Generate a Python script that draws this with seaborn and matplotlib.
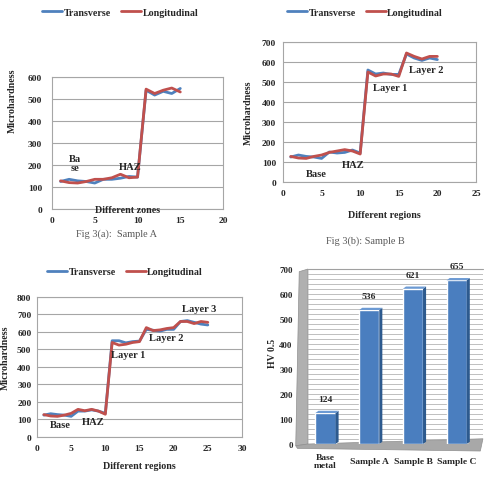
import numpy as np
import pandas as pd
import matplotlib
matplotlib.use("Agg")
import matplotlib.pyplot as plt
import seaborn as sns
from matplotlib.patches import Polygon

# ---------------- data ----------------
pos_a = list(range(1, 16))
trans_a = [125, 135, 128, 125, 118, 135, 135, 140, 148, 145, 540, 518, 535, 525, 548]
long_a = [128, 120, 118, 125, 135, 135, 142, 158, 142, 145, 545, 525, 540, 550, 532]

pos_b = list(range(1, 21))
trans_b = [125, 135, 128, 125, 118, 150, 145, 148, 160, 145,
           560, 540, 545, 538, 538, 640, 620, 608, 620, 612]
long_b = [128, 120, 118, 128, 135, 148, 155, 162, 155, 140,
          550, 530, 540, 540, 528, 645, 628, 615, 628, 628]

pos_c = list(range(1, 26))
trans_c = [125, 133, 128, 125, 118, 148, 148, 155, 148, 135,
           550, 550, 538, 545, 548, 615, 610, 605, 615, 615,
           660, 665, 655, 645, 640]
long_c = [128, 120, 118, 125, 135, 158, 150, 158, 148, 130,
          540, 525, 530, 540, 545, 625, 608, 612, 620, 625,
          660, 660, 648, 660, 655]

series_names = ["Transverse", "Longitudinal"]

bar_labels = ["Base\nmetal", "Sample A", "Sample B", "Sample C"]
bar_values = [124, 536, 621, 655]

# ---------------- style ----------------
sns.set_theme(style="white")
plt.rcParams["font.family"] = ["Liberation Serif", "DejaVu Serif"]
plt.rcParams["font.weight"] = "bold"

BLUE = "#4F81BD"
RED = "#C0504D"
GRID = "#A6A6A6"
FS = 6.8

fig = plt.figure(figsize=(4.86, 4.81), dpi=100)


def line_panel(rect, x, t, l, xmax, ymax, ystep, ypad, leg_xy):
    ax = fig.add_axes(rect)
    df = pd.DataFrame({
        "x": list(x) * 2,
        "y": list(t) + list(l),
        "dir": [series_names[0]] * len(x) + [series_names[1]] * len(x),
    })
    sns.lineplot(data=df, x="x", y="y", hue="dir", hue_order=series_names,
                 palette=[BLUE, RED], lw=2.0, ax=ax, estimator=None, sort=False)
    ax.set_xlim(0, xmax)
    ax.set_ylim(0, ymax)
    ax.set_xticks(range(0, xmax + 1, 5))
    ax.set_yticks(range(0, ymax + 1, ystep))
    ax.yaxis.grid(True, color=GRID, lw=0.8)
    ax.xaxis.grid(False)
    for s in ax.spines.values():
        s.set_color(GRID)
        s.set_linewidth(0.8)
    ax.tick_params(axis="y", labelsize=FS, length=0, pad=ypad)
    ax.tick_params(axis="x", labelsize=FS, length=0, pad=5)
    for lab in ax.get_xticklabels() + ax.get_yticklabels():
        lab.set_fontweight("bold")
    ax.set_xlabel("")
    ax.set_ylabel("")
    sns.move_legend(ax, loc="center", bbox_to_anchor=leg_xy, ncol=2, frameon=False,
                    title=None, fontsize=FS + 0.4, handlelength=2.0,
                    handletextpad=0.15, columnspacing=1.0)
    for t_ in ax.get_legend().get_texts():
        t_.set_fontweight("bold")
    return ax


# Panel A
axA = line_panel([0.107, 0.5634, 0.352, 0.2744], pos_a, trans_a, long_a,
                 20, 600, 100, 7, (0.40, 1.49))
axA.text(0.444, 0.0, "Different zones", transform=axA.transAxes, ha="center",
         va="center", fontsize=FS + 0.4, fontweight="bold")
axA.text(-0.234, 0.826, "Microhardness", transform=axA.transAxes, rotation=90,
         ha="center", va="center", fontsize=FS + 0.4, fontweight="bold")
axA.text(2.7, 211, "Ba\nse", ha="center", va="center", fontsize=FS + 0.8,
         fontweight="bold", linespacing=1.0)
axA.text(9.1, 195, "HAZ", ha="center", va="center", fontsize=FS + 0.8, fontweight="bold")
fig.text(0.2407, 0.5135, "Fig 3(a):  Sample A", ha="center", va="center",
         fontsize=7.4, fontweight="normal", color="#595959")

# Panel B
axB = line_panel([0.5823, 0.6195, 0.397, 0.2911], pos_b, trans_b, long_b,
                 25, 700, 100, 5, (0.425, 1.214))
axB.text(0.528, -0.229, "Different regions", transform=axB.transAxes, ha="center",
         va="center", fontsize=FS + 0.4, fontweight="bold")
axB.text(-0.18, 0.5, "Microhardness", transform=axB.transAxes, rotation=90,
         ha="center", va="center", fontsize=FS + 0.4, fontweight="bold")
for txt, xx, yy in [("Layer 2", 18.5, 565), ("Layer 1", 13.9, 475),
                    ("HAZ", 9.07, 90), ("Base", 4.3, 45)]:
    axB.text(xx, yy, txt, ha="center", va="center", fontsize=FS + 0.8, fontweight="bold")
fig.text(0.751, 0.499, "Fig 3(b): Sample B", ha="center", va="center",
         fontsize=7.4, fontweight="normal", color="#595959")

# Panel C
axC = line_panel([0.0761, 0.0894, 0.4218, 0.2911], pos_c, trans_c, long_c,
                 30, 800, 100, 4, (0.429, 1.179))
axC.text(0.5, -0.2, "Different regions", transform=axC.transAxes, ha="center",
         va="center", fontsize=FS + 0.4, fontweight="bold")
axC.text(-0.155, 0.571, "Microhardness", transform=axC.transAxes, rotation=90,
         ha="center", va="center", fontsize=FS + 0.4, fontweight="bold")
for txt, xx, yy in [("Layer 3", 23.7, 737), ("Layer 2", 18.9, 566),
                    ("Layer 1", 13.3, 474), ("HAZ", 8.2, 91), ("Base", 3.4, 69)]:
    axC.text(xx, yy, txt, ha="center", va="center", fontsize=FS + 0.8, fontweight="bold")

# Panel D (pseudo-3D bar chart)
axD = fig.add_axes([0.6337, 0.0748, 0.36, 0.3638])
axD.set_facecolor("white")
dfD = pd.DataFrame({"cat": bar_labels, "val": bar_values})
sns.barplot(data=dfD, x="cat", y="val", color="#4A7EBF", saturation=1,
            width=0.46, ax=axD, zorder=3)
axD.set_xlim(-0.4, 3.6)
axD.set_ylim(0, 700)
axD.set_yticks(range(0, 701, 100))
axD.set_yticks(np.arange(0, 701, 20), minor=True)
axD.yaxis.grid(True, which="both", color="#B4B4B4", lw=0.6, zorder=0)
axD.xaxis.grid(False)
axD.set_axisbelow(True)
for s in axD.spines.values():
    s.set_visible(False)
axD.tick_params(axis="y", which="both", labelsize=6.4, length=0, pad=11)
axD.tick_params(axis="x", length=0, labelbottom=False)
for lab in axD.get_yticklabels():
    lab.set_fontweight("bold")
axD.set_xlabel("")
axD.set_ylabel("")
axD.text(-0.205, 0.526, "HV 0.5", transform=axD.transAxes, rotation=90,
         ha="center", va="center", fontsize=FS + 0.2, fontweight="bold")

# back wall top edge
axD.plot([0, 1], [1, 1], transform=axD.transAxes, color="#A0A0A0", lw=0.8, clip_on=False)
# left wall and floor
axD.add_patch(Polygon([(-0.07, -0.01), (0.0, 0.0), (0.0, 1.0), (-0.05, 0.985)],
                      closed=True, transform=axD.transAxes, clip_on=False,
                      facecolor="#B0B0B0", edgecolor="#909090", lw=0.5, zorder=1))
axD.add_patch(Polygon([(-0.07, -0.01), (0.0, 0.0), (1.0, 0.03), (0.985, -0.04),
                       (-0.06, -0.025)],
                      closed=True, transform=axD.transAxes, clip_on=False,
                      facecolor="#A8A8A8", edgecolor="#909090", lw=0.5, zorder=2))

dx, dy = 0.07, 9
for p in list(axD.patches):
    if not hasattr(p, "get_width"):
        continue
    x0, w, h = p.get_x(), p.get_width(), p.get_height()
    axD.add_patch(Polygon([(x0 + w, 0), (x0 + w + dx, dy), (x0 + w + dx, h + dy), (x0 + w, h)],
                          closed=True, facecolor="#2D5A8E", edgecolor="none", zorder=3))
    axD.add_patch(Polygon([(x0, h), (x0 + dx, h + dy), (x0 + w + dx, h + dy), (x0 + w, h)],
                          closed=True, facecolor="#6C9AD3", edgecolor="none", zorder=3))

for i, (lab, v) in enumerate(zip(bar_labels, bar_values)):
    axD.annotate(f"{v}", (i, v), xytext=(0, 10), textcoords="offset points",
                 ha="center", va="center", fontsize=FS, fontweight="bold")
    axD.text(i, -0.097, lab, transform=axD.get_xaxis_transform(), ha="center",
             va="center", fontsize=FS, fontweight="bold", linespacing=1.0)

fig.savefig("out.png", dpi=100)
